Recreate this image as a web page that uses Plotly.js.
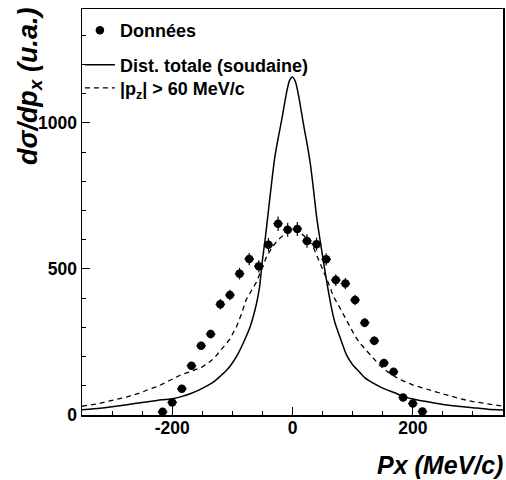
<!DOCTYPE html>
<html><head><meta charset="utf-8">
<script src="https://cdn.plot.ly/plotly-3.0.1.min.js"></script>
<style>html,body{margin:0;padding:0;background:#fff}</style>
</head><body><div id="chart" style="width:506px;height:480px"></div>
<script>
// Data points (Données)
const dataX = [-216,-200,-184,-168,-152,-136,-120,-104,-88,-72,-56,-40,-24,-8,8,24,40,56,72,88,104,120,136,152,168,184,200,216];
const dataY = [11,43,90,169,237,277,379,411,484,534,509,583,655,634,637,596,585,533,462,450,394,316,254,178,148,60,39,12];
const dataErrY = [5,7,10,12,14,15,18,18,20,21,21,23,25,24,24,23,22,21,20,19,18,16,15,13,12,8,7,5];
const dataErrX = [8,8,8,8,8,8,8,8,8,8,8,8,8,8,8,8,8,8,8,8,8,8,8,8,8,8,8,8];

// Dist. totale (soudaine)
const totX = [-350,-320,-300,-275,-250,-225,-200,-185,-170,-155,-140,-130,-120,-110,-100,-90,-80,-70,-60,-55,-50,-45,-40,-35,-30,-25,-20,-15,-10,-5,0,5,10,15,20,25,30,35,40,45,50,55,60,65,70,80,90,100,110,120,135,150,170,185,200,225,250,275,300,325,350];
const totY = [18,23,28,35,43,50,56,63,73,86,102,115,133,152,178,212,255,305,380,435,530,610,700,790,874,935,988,1045,1103,1145,1157,1140,1095,1035,975,920,855,770,680,610,545,480,420,365,320,260,205,172,150,128,108,92,76,63,55,45,36,30,25,20,17];

// |pz| > 60 MeV/c
const cutX = [-350,-325,-300,-275,-250,-240,-225,-207,-195,-185,-170,-162,-150,-140,-130,-120,-110,-104,-93,-85,-77,-68,-60,-50,-43,-35,-28,-21,-10,0,10,20,28,34,42,51,60,68,78,87,95,104,112,118,130,145,160,179,200,220,240,260,280,300,325,350];
const cutY = [30,38,50,62,78,87,97,115,128,138,148,155,165,178,195,220,245,260,303,345,395,425,455,505,543,570,590,605,625,635,628,612,595,577,540,495,450,406,370,335,300,270,246,232,205,170,145,121,103,90,78,67,55,46,38,30];

const xTickVals = [-200, 0, 200];
const xTickText = ['-200', '0', '200'];
const yTickVals = [0, 500, 1000];
const yTickText = ['0', '500', '1000'];

const FONT = 'Liberation Sans, Arial, Helvetica, sans-serif';

const traces = [
  {
    x: dataX, y: dataY, type: 'scatter', mode: 'markers', name: 'Données',
    legend: 'legend',
    marker: {color: 'black', size: 8.5, symbol: 'circle'},
    error_y: {type: 'data', array: dataErrY, visible: true, color: 'black', thickness: 1.2, width: 0},
    error_x: {type: 'data', array: dataErrX, visible: true, color: 'black', thickness: 1.2, width: 0}
  },
  {
    x: totX, y: totY, type: 'scatter', mode: 'lines', name: 'Dist. totale (soudaine)',
    legend: 'legend2',
    line: {color: 'black', width: 1.5, shape: 'spline', smoothing: 0.6}
  },
  {
    x: cutX, y: cutY, type: 'scatter', mode: 'lines', name: '|p<sub>z</sub>| > 60 MeV/c',
    legend: 'legend3',
    line: {color: 'black', width: 1.3, dash: '5px,4px'}
  }
];

const axisCommon = {
  showline: true, linecolor: 'black', linewidth: 1.5, mirror: true,
  ticks: 'inside', ticklen: 8, tickwidth: 1, tickcolor: 'black',
  showgrid: false, zeroline: false,
  tickfont: {family: FONT, size: 17.5, weight: 'bold', color: 'black'}
};

const legendCommon = {
  x: -0.005, xanchor: 'left', yanchor: 'middle',
  font: {family: FONT, size: 18, weight: 'bold', color: 'black'},
  bgcolor: 'rgba(0,0,0,0)', borderwidth: 0, itemwidth: 30
};

const layout = {
  width: 506, height: 480,
  margin: {l: 82, r: 3, t: 9, b: 65},
  paper_bgcolor: 'white', plot_bgcolor: 'white',
  showlegend: true,
  legend: Object.assign({}, legendCommon, {y: 0.947}),
  legend2: Object.assign({}, legendCommon, {y: 0.862}),
  legend3: Object.assign({}, legendCommon, {y: 0.805}),
  xaxis: Object.assign({}, axisCommon, {
    range: [-350, 350],
    tickmode: 'array', tickvals: xTickVals, ticktext: xTickText,
    ticklabelstandoff: -4,
    minor: {tickmode: 'linear', tick0: 0, dtick: 50, ticks: 'inside', ticklen: 4, tickcolor: 'black', tickwidth: 1}
  }),
  yaxis: Object.assign({}, axisCommon, {
    range: [0, 1390],
    tickmode: 'array', tickvals: yTickVals, ticktext: yTickText,
    minor: {tickmode: 'linear', tick0: 0, dtick: 100, ticks: 'inside', ticklen: 4, tickcolor: 'black', tickwidth: 1}
  }),
  annotations: [
    {
      text: 'dσ/dp<sub>x</sub> (u.a.)', textangle: -90,
      xref: 'paper', yref: 'paper', x: -0.125, y: 1.007, xanchor: 'center', yanchor: 'top',
      showarrow: false,
      font: {family: FONT, size: 27, weight: 'bold', style: 'italic', color: 'black'}
    },
    {
      text: 'Px (MeV/c)',
      xref: 'paper', yref: 'paper', x: 1.004, y: -0.123, xanchor: 'right', yanchor: 'middle',
      showarrow: false,
      font: {family: FONT, size: 25, weight: 'bold', style: 'italic', color: 'black'}
    }
  ]
};

Plotly.newPlot('chart', traces, layout, {staticPlot: true, displayModeBar: false});
</script></body></html>
